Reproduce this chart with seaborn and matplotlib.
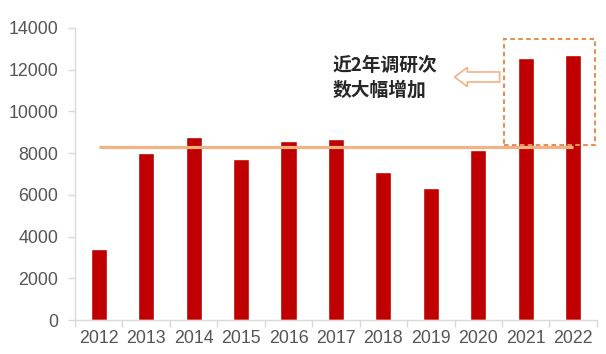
import numpy as np
import pandas as pd
import matplotlib
matplotlib.use("Agg")
import matplotlib.pyplot as plt
import seaborn as sns
from matplotlib.patches import Rectangle, FancyArrow

years = ["2012", "2013", "2014", "2015", "2016", "2017", "2018", "2019", "2020", "2021", "2022"]
counts = [3400, 8000, 8750, 7700, 8600, 8700, 7100, 6350, 8150, 12550, 12700]
avg_value = 8300
y_ticks = [0, 2000, 4000, 6000, 8000, 10000, 12000, 14000]
note_text = "近2年调研次\n数大幅增加"

df = pd.DataFrame({"year": years, "count": counts})

sns.set_theme(style="white")
plt.rcParams["font.family"] = ["Liberation Sans", "DejaVu Sans"]

fig = plt.figure(figsize=(6.06, 3.54), dpi=100)
ax = fig.add_axes([0.1238, 0.096, 0.985 - 0.1238, 0.921 - 0.096])

sns.barplot(data=df, x="year", y="count", color="#C00000", saturation=1,
            width=0.34, ax=ax, zorder=2)

ax.plot([0, len(years) - 1], [avg_value, avg_value], color="#F4B183",
        lw=2.3, zorder=3, solid_capstyle="butt")

ax.set_xlim(-0.5, len(years) - 0.5)
ax.set_ylim(0, 14000)
ax.set_yticks(y_ticks)
ax.set_yticklabels([str(v) for v in y_ticks])
ax.set_xlabel("")
ax.set_ylabel("")

for s in ["top", "right"]:
    ax.spines[s].set_visible(False)
for s in ["left", "bottom"]:
    ax.spines[s].set_color("#D9D9D9")
    ax.spines[s].set_linewidth(1.0)

ax.tick_params(axis="y", which="major", length=5, width=1, color="#D9D9D9",
               labelsize=12.8, labelcolor="#555555", pad=7, left=True)
ax.tick_params(axis="x", which="major", length=0, labelsize=12.8,
               labelcolor="#555555", pad=7)
ax.set_xticks(np.arange(-0.5, len(years)), minor=True)
ax.tick_params(axis="x", which="minor", length=5, width=1, color="#D9D9D9",
               bottom=True)

# dashed highlight box around the last two bars
rect = Rectangle((8.55, 8376), 10.46 - 8.55, 13458 - 8376, fill=False,
                 edgecolor="#E4905A", lw=1.5, linestyle=(0, (2.2, 1.6)),
                 zorder=4, clip_on=False)
ax.add_patch(rect)

# hollow arrow pointing left
arr = FancyArrow(8.45, 11650, -0.95, 0, width=480, head_width=920,
                 head_length=0.27, length_includes_head=True,
                 facecolor="white", edgecolor="#F4B183", lw=1.2, zorder=4)
ax.add_patch(arr)

ax.text(4.93, 11625, note_text, ha="left", va="center", fontsize=13.5,
        fontweight="bold", color="#262626", linespacing=1.4,
        family=["Noto Sans CJK SC", "DejaVu Sans"], zorder=5)

fig.savefig("out.png", dpi=100)
